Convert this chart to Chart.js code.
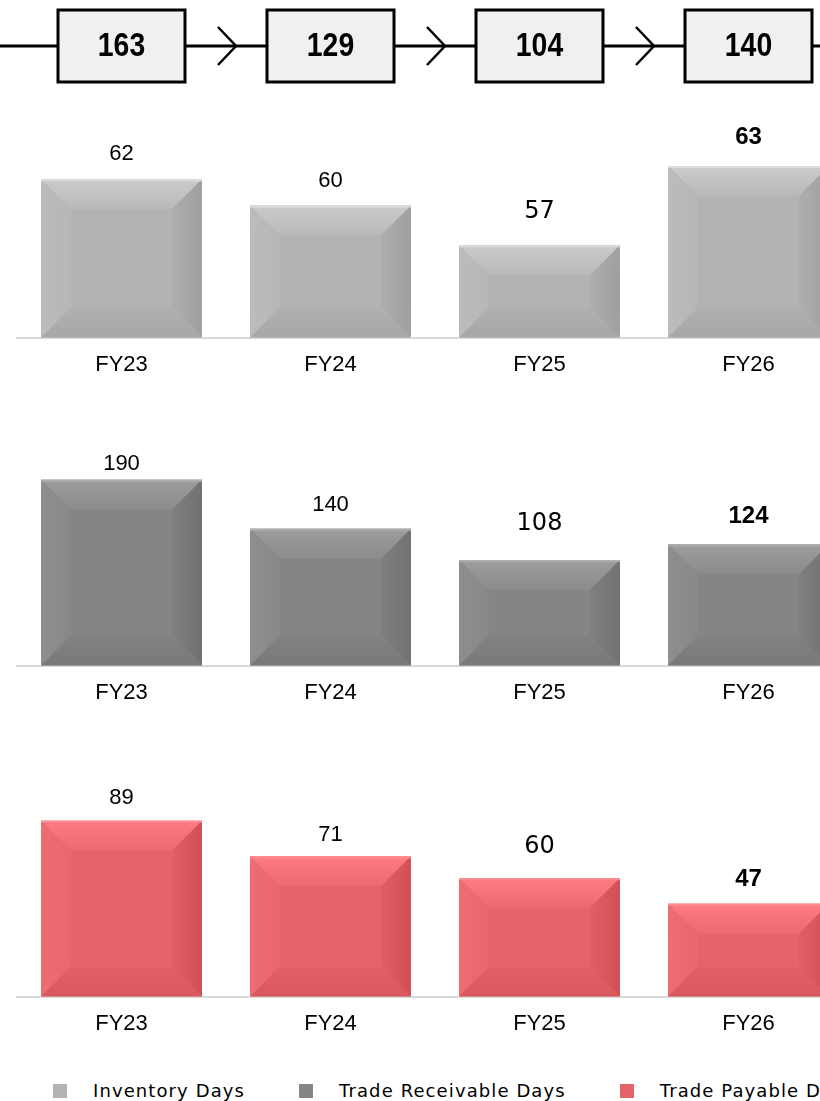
<!DOCTYPE html>
<html>
<head>
<meta charset="utf-8">
<script src="https://cdn.jsdelivr.net/npm/chart.js@4"></script>
<style>
  body { margin: 0; width: 820px; height: 1101px; overflow: hidden; background: #fff; }
  #wrap { position: relative; width: 870px; height: 1101px; }
  .panel { position: absolute; left: 0; width: 870px; }
  #legend { position: absolute; left: 53px; top: 1080px; display: flex; align-items: center;
            font-family: 'DejaVu Sans', sans-serif; font-size: 18px; letter-spacing: 1.1px; color: #000; white-space: nowrap; }
  #legend .item { display: flex; align-items: center; margin-right: 54px; }
  #legend .box { width: 14px; height: 14px; margin-right: 26px; }
</style>
</head>
<body>
<div id="wrap">
  <div class="panel" style="top:0;height:406px"><canvas id="invChart"></canvas></div>
  <div class="panel" style="top:390px;height:346px"><canvas id="recChart"></canvas></div>
  <div class="panel" style="top:720px;height:346px"><canvas id="payChart"></canvas></div>
  <div id="legend"></div>
</div>
<script>
// data
var years = ['FY23', 'FY24', 'FY25', 'FY26'];
var inventoryDays = [62, 60, 57, 63];
var receivableDays = [190, 140, 108, 124];
var payableDays = [89, 71, 60, 47];
var cycleDays = [163, 129, 104, 140];
var seriesNames = ['Inventory Days', 'Trade Receivable Days', 'Trade Payable Days'];
var seriesColors = ['#b3b3b3', '#858585', '#e5646a'];

// label look per year (last year bold, FY25 in another font)
var labelFonts = [
  '22px "Liberation Sans", Arial',
  '22px "Liberation Sans", Arial',
  '24px "DejaVu Sans", sans-serif',
  'bold 24px "Liberation Sans", Arial'
];

function shade(hex, amt) {
  var n = parseInt(hex.slice(1), 16);
  var r = Math.max(0, Math.min(255, (n >> 16) + amt));
  var g = Math.max(0, Math.min(255, ((n >> 8) & 255) + amt));
  var b = Math.max(0, Math.min(255, (n & 255) + amt));
  return 'rgb(' + r + ',' + g + ',' + b + ')';
}

function poly(ctx, pts, fill) {
  ctx.beginPath();
  ctx.moveTo(pts[0][0], pts[0][1]);
  for (var i = 1; i < pts.length; i++) ctx.lineTo(pts[i][0], pts[i][1]);
  ctx.closePath();
  ctx.fillStyle = fill;
  ctx.fill();
}

// bevelled look + value labels on top of the bars
var bevelPlugin = {
  id: 'bevel',
  afterDatasetsDraw: function(chart) {
    var ctx = chart.ctx;
    var ds = chart.data.datasets[0];
    var c = ds.backgroundColor;
    var gaps = chart.options.plugins.bevel.gaps;
    chart.getDatasetMeta(0).data.forEach(function(bar, i) {
      var p = bar.getProps(['x', 'y', 'base', 'width'], true);
      var l = p.x - p.width / 2, r = p.x + p.width / 2, t = p.y, b = p.base;
      var d = Math.min(30, (b - t) * 0.36);
      ctx.save();
      var g = ctx.createLinearGradient(0, t, 0, t + d);
      g.addColorStop(0, shade(c, 24)); g.addColorStop(1, shade(c, 6));
      poly(ctx, [[l, t], [r, t], [r - d, t + d], [l + d, t + d]], g);
      g = ctx.createLinearGradient(l, 0, l + d, 0);
      g.addColorStop(0, shade(c, 9)); g.addColorStop(1, shade(c, 3));
      poly(ctx, [[l, t], [l + d, t + d], [l + d, b - d], [l, b]], g);
      g = ctx.createLinearGradient(r - d, 0, r, 0);
      g.addColorStop(0, shade(c, -5)); g.addColorStop(1, shade(c, -20));
      poly(ctx, [[r, t], [r, b], [r - d, b - d], [r - d, t + d]], g);
      g = ctx.createLinearGradient(0, b - d, 0, b);
      g.addColorStop(0, shade(c, -3)); g.addColorStop(1, shade(c, -12));
      poly(ctx, [[l, b], [l + d, b - d], [r - d, b - d], [r, b]], g);
      ctx.strokeStyle = shade(c, 40);
      ctx.lineWidth = 2;
      ctx.beginPath(); ctx.moveTo(l, t + 1); ctx.lineTo(r, t + 1); ctx.stroke();
      ctx.fillStyle = '#000';
      ctx.font = labelFonts[i];
      ctx.textAlign = 'center';
      ctx.textBaseline = 'middle';
      ctx.fillText(String(ds.data[i]), p.x, t - gaps[i]);
      ctx.restore();
    });
  }
};

// the cash cycle boxes across the top
var cyclePlugin = {
  id: 'cycle',
  afterDraw: function(chart) {
    var ctx = chart.ctx;
    var xs = chart.scales.x;
    var yMid = 46, bw = 127, top = 10, bh = 72;
    ctx.save();
    ctx.strokeStyle = '#000';
    ctx.lineWidth = 3;
    ctx.beginPath(); ctx.moveTo(0, yMid); ctx.lineTo(chart.width, yMid); ctx.stroke();
    for (var i = 0; i < cycleDays.length; i++) {
      var cx = xs.getPixelForValue(i);
      if (i > 0) {
        var prev = xs.getPixelForValue(i - 1);
        var m = ((prev + bw / 2) + (cx - bw / 2)) / 2;
        ctx.lineWidth = 2.5;
        ctx.beginPath();
        ctx.moveTo(m - 8, yMid - 19); ctx.lineTo(m + 10, yMid); ctx.lineTo(m - 8, yMid + 19);
        ctx.stroke();
        ctx.lineWidth = 3;
      }
      ctx.fillStyle = '#f0f0f0';
      ctx.fillRect(cx - bw / 2, top, bw, bh);
      ctx.strokeRect(cx - bw / 2, top, bw, bh);
      ctx.save();
      ctx.translate(cx, yMid + 1);
      ctx.scale(0.86, 1);
      ctx.fillStyle = '#000';
      ctx.font = 'bold 33px "Liberation Sans", Arial';
      ctx.textAlign = 'center';
      ctx.textBaseline = 'middle';
      ctx.fillText(String(cycleDays[i]), 0, 0);
      ctx.restore();
    }
    ctx.restore();
  }
};

function makeChart(id, name, values, color, yMin, yMax, padTop, padBottom, gaps, extra) {
  return new Chart(document.getElementById(id), {
    type: 'bar',
    data: {
      labels: years,
      datasets: [{
        label: name,
        data: values,
        backgroundColor: color,
        base: yMin,
        borderWidth: 0,
        barPercentage: 0.77,
        categoryPercentage: 1
      }]
    },
    options: {
      responsive: true,
      maintainAspectRatio: false,
      animation: false,
      layout: { padding: { left: 17, right: 17, top: padTop, bottom: padBottom } },
      scales: {
        x: {
          grid: { display: false, drawTicks: false },
          border: { display: true, color: '#d9d9d9', width: 2 },
          ticks: { color: '#000', padding: 14, font: { family: '"Liberation Sans", Arial', size: 22 } }
        },
        y: { display: false, min: yMin, max: yMax }
      },
      plugins: {
        legend: { display: false },
        tooltip: { enabled: false },
        bevel: { gaps: gaps }
      }
    },
    plugins: [bevelPlugin].concat(extra || [])
  });
}

makeChart('invChart', seriesNames[0], inventoryDays, seriesColors[0], 50, 68, 100, 14, [25, 25, 33, 29], [cyclePlugin]);
makeChart('recChart', seriesNames[1], receivableDays, seriesColors[1], 0, 200, 80, 16, [16, 24, 36, 28]);
makeChart('payChart', seriesNames[2], payableDays, seriesColors[2], 0, 100, 79, 15, [23, 21, 31, 24]);

// legend
var leg = document.getElementById('legend');
seriesNames.forEach(function(n, i) {
  var item = document.createElement('div');
  item.className = 'item';
  var box = document.createElement('span');
  box.className = 'box';
  box.style.background = seriesColors[i];
  var txt = document.createElement('span');
  txt.textContent = n;
  item.appendChild(box);
  item.appendChild(txt);
  leg.appendChild(item);
});
</script>
</body>
</html>
